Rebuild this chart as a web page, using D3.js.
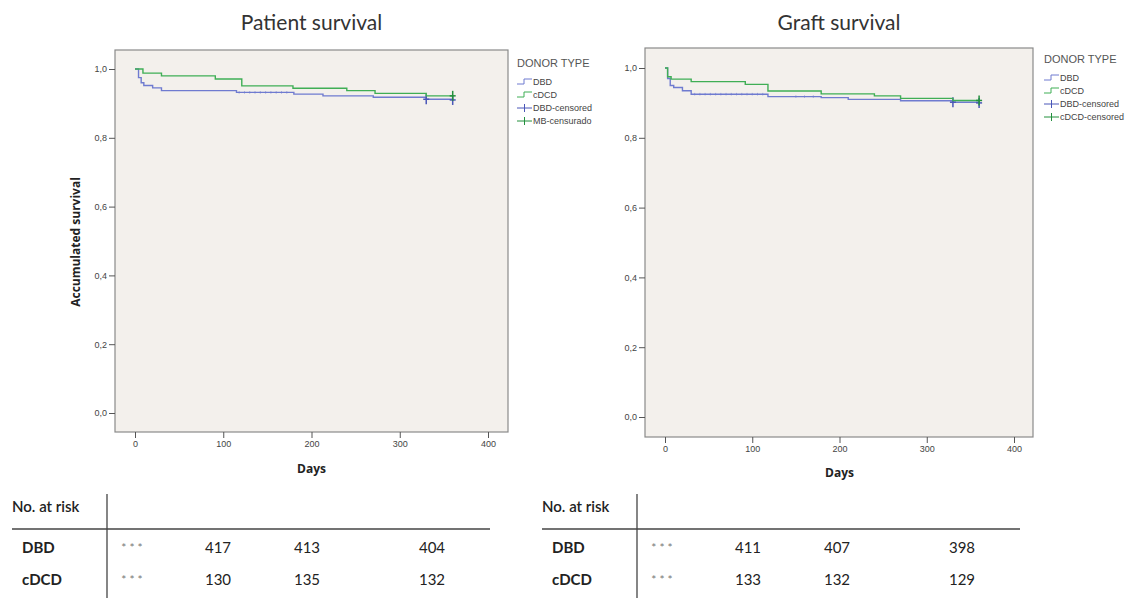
<!DOCTYPE html>
<html>
<head>
<meta charset="utf-8">
<script src="https://cdn.jsdelivr.net/npm/d3@7"></script>
<style>
  body { margin: 0; background: #fff; }
  svg { display: block; }
  .tick text { font-family: "Liberation Sans", Arial, sans-serif; font-size: 9px; fill: #444; }
  .tick line { stroke: #555; }
  .domain { display: none; }
</style>
</head>
<body>
<svg width="1135" height="598"></svg>
<script>
// Kaplan-Meier step points (days, survival)
var patientDBDDays = [0, 4, 7, 10, 20, 30, 115, 180, 213, 270, 330, 360];
var patientDBDSurv = [1, 0.975, 0.96, 0.952, 0.945, 0.937, 0.932, 0.927, 0.922, 0.918, 0.912, 0.91];
var patientCDCDDays = [0, 9, 30, 91, 121, 179, 240, 272, 330, 360];
var patientCDCDSurv = [1, 0.988, 0.98, 0.971, 0.951, 0.944, 0.937, 0.929, 0.922, 0.922];

var graftDBDDays = [0, 3, 6, 10, 20, 30, 118, 179, 210, 270, 330, 360];
var graftDBDSurv = [1, 0.97, 0.95, 0.944, 0.935, 0.925, 0.918, 0.915, 0.91, 0.906, 0.902, 0.9];
var graftCDCDDays = [0, 3, 7, 30, 92, 118, 179, 240, 270, 330, 361];
var graftCDCDSurv = [1, 0.975, 0.968, 0.961, 0.953, 0.934, 0.926, 0.92, 0.913, 0.907, 0.907];

// censored observations (days)
var patientDBDCensored = [118, 124, 130, 136, 142, 148, 154, 160, 166, 172, 330, 360];
var patientCDCDCensored = [360];
var graftDBDCensored = [34, 40, 46, 52, 58, 64, 70, 76, 82, 88, 94, 100, 106, 112, 150, 160, 170, 330, 360];
var graftCDCDCensored = [360];

var xTicks = [0, 100, 200, 300, 400];
var yTicks = [0, 0.2, 0.4, 0.6, 0.8, 1.0];

var patientLegend = ["DBD", "cDCD", "DBD-censored", "MB-censurado"];
var graftLegend = ["DBD", "cDCD", "DBD-censored", "cDCD-censored"];

var riskRows = ["DBD", "cDCD"];
var patientRiskDBD = ["* * *", "417", "413", "404"];
var patientRiskCDCD = ["* * *", "130", "135", "132"];
var graftRiskDBD = ["* * *", "411", "407", "398"];
var graftRiskCDCD = ["* * *", "133", "132", "129"];

var blue = "#6f7bd0", green = "#3fae55";
var blueDark = "#4a56b8", greenDark = "#23903d";

var svg = d3.select("svg");
var fmt = function(d) { return d3.format(".1f")(d).replace(".", ","); };

function zip(a, b) { return a.map(function(d, i) { return [d, b[i]]; }); }

// survival at time t (step function) for placing censor marks
function survAt(days, surv, t) {
  var i = d3.bisectRight(days, t) - 1;
  return surv[Math.max(0, i)];
}

function panel(opt) {
  var x = d3.scaleLinear().domain([0, 400]).range([opt.x0, opt.x400]);
  var y = d3.scaleLinear().domain([0, 1]).range([opt.y0, opt.y1]);

  svg.append("rect")
      .attr("x", opt.left).attr("y", opt.top)
      .attr("width", opt.right - opt.left).attr("height", opt.bottom - opt.top)
      .attr("fill", "#f3f0ec").attr("stroke", "#8a8a8a").attr("stroke-width", 1.2);

  svg.append("g")
      .attr("class", "axis")
      .attr("transform", "translate(0," + opt.bottom + ")")
      .call(d3.axisBottom(x).tickValues(xTicks).tickSize(6).tickPadding(3));

  svg.append("g")
      .attr("class", "axis")
      .attr("transform", "translate(" + opt.left + ",0)")
      .call(d3.axisLeft(y).tickValues(yTicks).tickSize(6).tickPadding(2).tickFormat(fmt));

  var line = d3.line()
      .curve(d3.curveStepAfter)
      .x(function(d) { return x(d[0]); })
      .y(function(d) { return y(d[1]); });

  opt.series.forEach(function(s) {
    svg.append("path")
        .datum(zip(s.days, s.surv))
        .attr("fill", "none")
        .attr("stroke", s.color)
        .attr("stroke-width", 1.4)
        .attr("d", line);

    s.censored.forEach(function(t) {
      var big = t >= 320;
      var cx = x(t), cy = y(survAt(s.days, s.surv, t));
      var h = big ? 5 : 1.3;
      svg.append("line")
          .attr("x1", cx).attr("x2", cx)
          .attr("y1", cy - h).attr("y2", cy + h)
          .attr("stroke", big ? s.mark : s.color).attr("stroke-width", big ? 1.5 : 0.8)
          .attr("opacity", big ? 1 : 0.7);
      if (big) {
        svg.append("line")
            .attr("x1", cx - 3).attr("x2", cx + 3)
            .attr("y1", cy).attr("y2", cy)
            .attr("stroke", s.mark).attr("stroke-width", 1.5);
      }
    });
  });

  // title
  svg.append("text")
      .attr("x", (opt.left + opt.right) / 2).attr("y", 30)
      .attr("text-anchor", "middle")
      .style("font-family", "Lato, 'Open Sans', sans-serif")
      .style("font-size", "21px").style("fill", "#333")
      .text(opt.title);

  svg.append("text")
      .attr("x", (opt.x0 + opt.x400) / 2).attr("y", opt.daysY)
      .attr("text-anchor", "middle")
      .style("font-family", "'Open Sans', sans-serif")
      .style("font-size", "12px").style("font-weight", "bold").style("fill", "#222")
      .text("Days");

  // legend
  var lg = svg.append("g").attr("transform", "translate(" + opt.legX + "," + opt.legY + ")");
  lg.append("text")
      .attr("x", 0).attr("y", 0)
      .style("font-family", "'Liberation Sans', Arial, sans-serif")
      .style("font-size", "11px").style("fill", "#555")
      .text("DONOR TYPE");

  var cols = [blue, green, blueDark, greenDark];
  opt.legend.forEach(function(name, i) {
    var yy = 15 + i * 13;
    var c = cols[i];
    if (i < 2) {
      lg.append("path")
          .attr("d", "M0," + (yy + 2) + "H7V" + (yy - 3) + "H15")
          .attr("fill", "none").attr("stroke", c).attr("stroke-width", 1);
    } else {
      lg.append("line").attr("x1", 0).attr("x2", 15).attr("y1", yy).attr("y2", yy)
          .attr("stroke", c).attr("stroke-width", 1);
      lg.append("line").attr("x1", 7.5).attr("x2", 7.5).attr("y1", yy - 4).attr("y2", yy + 4)
          .attr("stroke", c).attr("stroke-width", 1);
    }
    lg.append("text")
        .attr("x", 16).attr("y", yy + 3)
        .style("font-family", "'Liberation Sans', Arial, sans-serif")
        .style("font-size", "9px").style("fill", "#444")
        .text(name);
  });

  // number at risk table
  var tx = opt.tableX;
  var colX = [132, 218, 307, 432].map(function(d) { return d - 12; });
  var tf = "Lato, 'Open Sans', sans-serif";
  svg.append("text")
      .attr("x", tx).attr("y", 512)
      .style("font-family", tf).style("font-size", "15px").style("font-weight", "600").style("fill", "#222")
      .text("No. at risk");
  svg.append("line")
      .attr("x1", tx).attr("x2", tx + 478).attr("y1", 529).attr("y2", 529)
      .attr("stroke", "#444").attr("stroke-width", 1.3);
  svg.append("line")
      .attr("x1", tx + 95).attr("x2", tx + 95).attr("y1", 494).attr("y2", 598)
      .attr("stroke", "#444").attr("stroke-width", 1.3);

  opt.risk.forEach(function(row, r) {
    var yy = 553 + r * 32;
    svg.append("text")
        .attr("x", tx + 10).attr("y", yy)
        .style("font-family", tf).style("font-size", "15px").style("font-weight", "bold").style("fill", "#222")
        .text(riskRows[r]);
    row.forEach(function(v, j) {
      svg.append("text")
          .attr("x", tx + colX[j]).attr("y", j === 0 ? yy - 1 : yy)
          .attr("text-anchor", "middle")
          .style("font-family", tf).style("font-size", j === 0 ? "12px" : "15px").style("fill", j === 0 ? "#777" : "#222")
          .text(v);
    });
  });
}

panel({
  title: "Patient survival",
  left: 115, right: 508, top: 50, bottom: 432,
  x0: 135, x400: 488, y0: 413, y1: 69,
  daysY: 473,
  legX: 517, legY: 67, legend: patientLegend,
  tableX: 12,
  risk: [patientRiskDBD, patientRiskCDCD],
  series: [
    {days: patientDBDDays, surv: patientDBDSurv, censored: patientDBDCensored, color: blue, mark: blueDark},
    {days: patientCDCDDays, surv: patientCDCDSurv, censored: patientCDCDCensored, color: green, mark: greenDark}
  ]
});

panel({
  title: "Graft survival",
  left: 645, right: 1033, top: 48, bottom: 437,
  x0: 665, x400: 1014, y0: 417, y1: 68,
  daysY: 477,
  legX: 1044, legY: 63, legend: graftLegend,
  tableX: 542,
  risk: [graftRiskDBD, graftRiskCDCD],
  series: [
    {days: graftDBDDays, surv: graftDBDSurv, censored: graftDBDCensored, color: blue, mark: blueDark},
    {days: graftCDCDDays, surv: graftCDCDSurv, censored: graftCDCDCensored, color: green, mark: greenDark}
  ]
});

// y axis title (left panel only)
svg.append("text")
    .attr("transform", "translate(80,242) rotate(-90)")
    .attr("text-anchor", "middle")
    .style("font-family", "'Open Sans', sans-serif")
    .style("font-size", "12px").style("font-weight", "bold").style("fill", "#222")
    .text("Accumulated survival");
</script>
</body>
</html>
